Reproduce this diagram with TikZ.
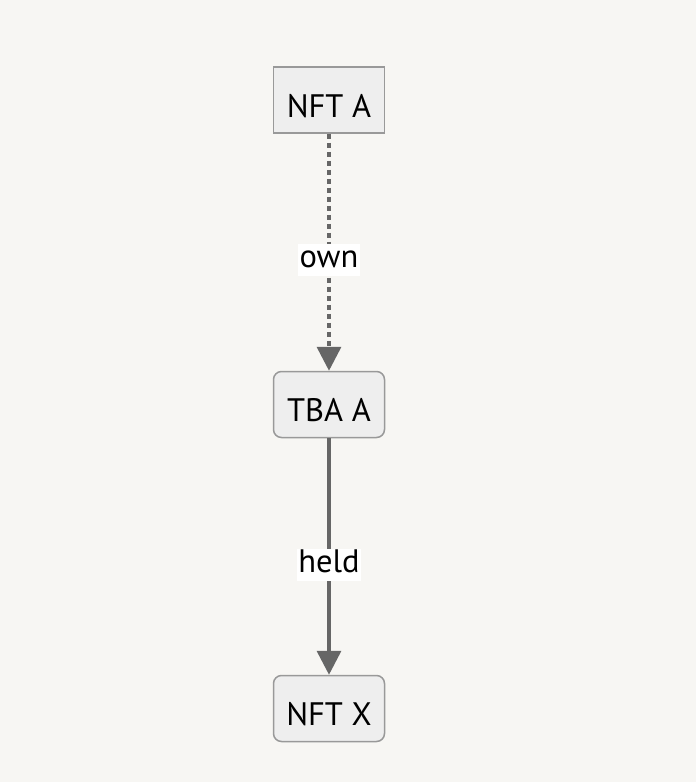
\documentclass[tikz,border=0pt]{standalone}
\usepackage{fontspec}
\setmainfont{PT Sans}
\usetikzlibrary{arrows.meta}
\definecolor{bgcol}{HTML}{F7F6F3}
\definecolor{boxfill}{HTML}{EEEEEE}
\definecolor{boxline}{HTML}{999999}
\definecolor{edgecol}{HTML}{666666}
\begin{document}
\begin{tikzpicture}[x=1pt,y=1pt,
font=\fontsize{32.5}{38}\selectfont,
b/.style={
draw=boxline,
fill=boxfill,
line width=1.5pt,
minimum width=111pt,
minimum height=66pt,
text depth=0pt,
text height=34pt},
rb/.style={b,rounded corners=8pt},
lbl/.style={fill=white,inner sep=1.5pt,text height=22pt,text depth=7pt,yshift=-8pt},
e/.style={draw=edgecol,line width=3.5pt,-{Triangle[length=24pt,width=24pt]}},
]
\useasboundingbox[fill=bgcol](0,0)rectangle(696,-782);
%Nodes
\node[b](nfta)at(329,-100){NFT A};
\node[rb](tbaa)at(329,-404.5){TBA A};
\node[rb](nftx)at(329,-708.5){NFT X};
%Edges
\draw[e,dash pattern=on 5pt off 4pt](nfta)--(tbaa)node[lbl,pos=0.5]{own};
\draw[e](tbaa)--(nftx)node[lbl,pos=0.5]{held};
\end{tikzpicture}
\end{document}
